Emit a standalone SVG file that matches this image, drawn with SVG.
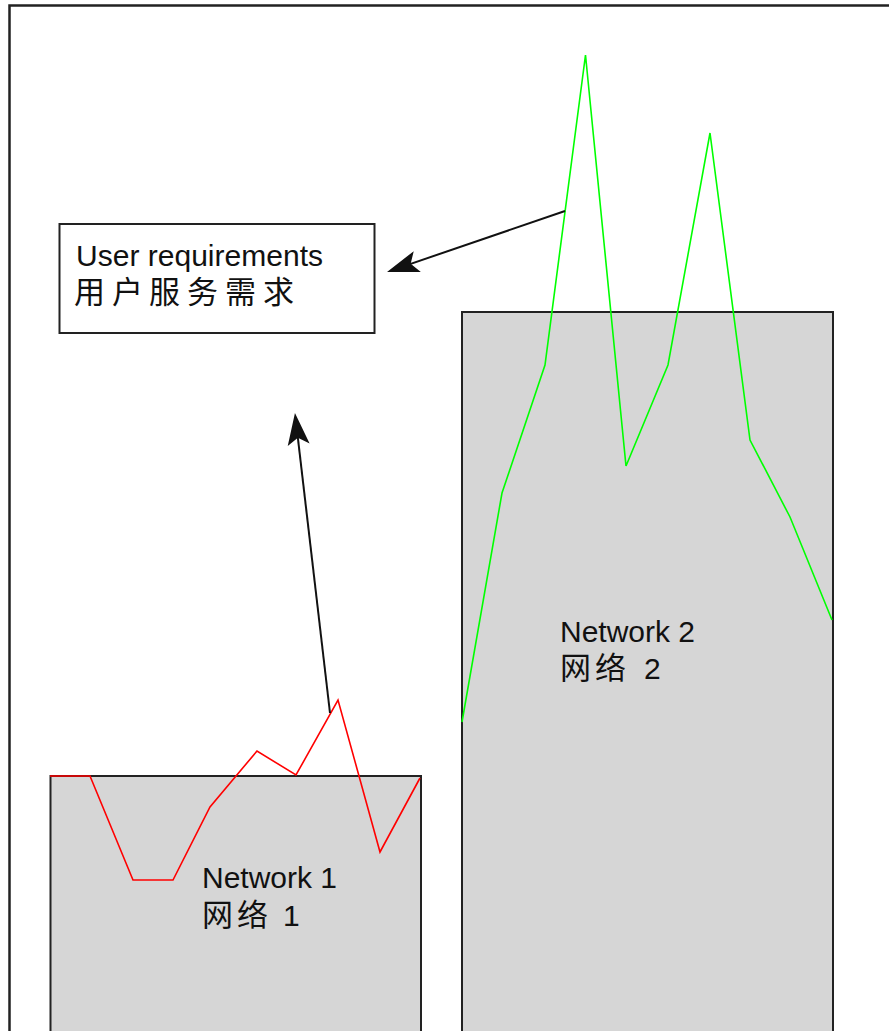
<svg xmlns="http://www.w3.org/2000/svg" width="889" height="1031" viewBox="0 0 889 1031">
  <style>
    .box { fill: #d6d6d6; stroke: #222; stroke-width: 2; }
    .note { fill: #fff; stroke: #222; stroke-width: 2; }
    .lbl { font-family: "Liberation Sans", "Noto Sans CJK SC", sans-serif; font-size: 30px; fill: #111; }
    .cjk { font-family: "Liberation Sans", "Noto Sans CJK SC", sans-serif; font-size: 31px; fill: #111; }
    .trace { fill: none; stroke-width: 1.6; stroke-linejoin: miter; }
    .conn { fill: none; stroke: #111; stroke-width: 2; marker-end: url(#arrow); }
  </style>
  <defs>
    <marker id="arrow" markerUnits="userSpaceOnUse" markerWidth="60" markerHeight="40" refX="0" refY="0" viewBox="-30 -20 60 40" orient="auto" overflow="visible">
      <path d="M15,0 L-17,-11 L-10,0 L-17,11 Z" fill="#111"/>
    </marker>
  </defs>
  <rect width="889" height="1031" fill="#fff"/>
  <rect id="frame" x="9.5" y="5.5" width="900" height="1100" fill="none" stroke="#222" stroke-width="2.5"/>

  <g id="user-requirements">
    <rect class="note" x="59.5" y="224" width="315" height="109"/>
    <text class="lbl" x="76" y="266" textLength="247" lengthAdjust="spacingAndGlyphs">User requirements</text>
    <text class="cjk" x="74 112 149 187 225 263" y="303">用户服务需求</text>
  </g>

  <g id="network-1">
    <rect class="box" x="50.5" y="776" width="370.5" height="270"/>
    <text class="lbl" x="202" y="888">Network 1</text>
    <text class="cjk" y="926"><tspan x="202 237">网络</tspan><tspan class="lbl" x="283">1</tspan></text>
  </g>

  <g id="network-2">
    <rect class="box" x="462" y="312" width="371" height="740"/>
    <text class="lbl" x="560" y="642">Network 2</text>
    <text class="cjk" y="679"><tspan x="560 595">网络</tspan><tspan class="lbl" x="644">2</tspan></text>
  </g>

  <g id="traces">
    <polyline class="trace" stroke="#ff0000" points="50,776 90,776 133,880 173,880 210,807 257,751 296,775 338,700 380,852 420,778"/>
    <polyline class="trace" stroke="#00ff00" points="462,722 502,493 545,365 585.5,55 626,466 668,365 710,133 750,440 790,517 832,620"/>
  </g>

  <g id="connectors">
    <line class="conn" x1="565" y1="211" x2="401.2" y2="267.1"/>
    <line class="conn" x1="330" y1="713" x2="296.7" y2="427.9"/>
  </g>
</svg>
